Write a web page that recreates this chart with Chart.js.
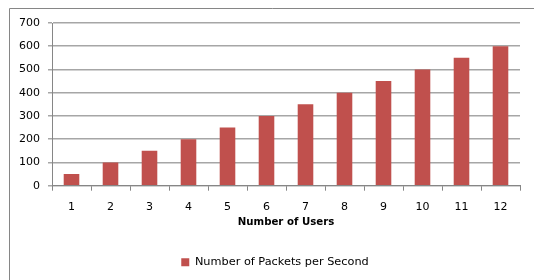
<!DOCTYPE html>
<html>
<head>
<meta charset="utf-8">
<script src="https://cdn.jsdelivr.net/npm/chart.js@4/dist/chart.umd.min.js"></script>
<style>
  html, body { margin: 0; padding: 0; background: #fff; }
  #wrap { width: 534px; height: 280px; position: relative; }
</style>
</head>
<body>
<div id="wrap"><canvas id="packetsChart"></canvas></div>
<script>
// data
var users = ["1", "2", "3", "4", "5", "6", "7", "8", "9", "10", "11", "12"];
var packetsPerSecond = [50, 100, 150, 200, 250, 300, 350, 400, 450, 500, 550, 600];
var seriesName = "Number of Packets per Second";
var xTitle = "Number of Users";

// outer frame of the chart object (cut off at the right and bottom)
var framePlugin = {
  id: "frame",
  beforeDraw: function (chart) {
    var ctx = chart.ctx;
    ctx.save();
    ctx.strokeStyle = "#868686";
    ctx.lineWidth = 1;
    ctx.beginPath();
    ctx.moveTo(9.5, 290);
    ctx.lineTo(9.5, 8.5);
    ctx.lineTo(540, 8.5);
    ctx.stroke();
    ctx.restore();
  },
  // legend in the original sits a bit right of the canvas centre
  afterLayout: function (chart) {
    if (chart.legend) {
      chart.legend.left += 15;
      chart.legend.right += 15;
    }
  }
};

var ctx = document.getElementById("packetsChart").getContext("2d");
new Chart(ctx, {
  type: "bar",
  data: {
    labels: users,
    datasets: [{
      label: seriesName,
      data: packetsPerSecond,
      backgroundColor: "#c0504d",
      borderWidth: 0,
      barPercentage: 0.4,
      categoryPercentage: 1
    }]
  },
  options: {
    responsive: true,
    maintainAspectRatio: false,
    animation: false,
    layout: { padding: { top: 23, right: 14, left: 0, bottom: 2 } },
    font: { family: "DejaVu Sans" },
    scales: {
      x: {
        grid: { drawOnChartArea: false, tickLength: 5, color: "#868686" },
        border: { color: "#868686" },
        ticks: { color: "#000", padding: 10, font: { family: "DejaVu Sans", size: 11 } },
        title: {
          display: true,
          text: xTitle,
          color: "#000",
          font: { family: "DejaVu Sans", size: 10.2, weight: "bold" },
          padding: { top: 0, bottom: 22 }
        },
        afterFit: function (scale) { scale.height = 65; }
      },
      y: {
        min: 0,
        max: 700,
        ticks: { stepSize: 100, color: "#000", padding: 8, font: { family: "DejaVu Sans", size: 11 } },
        grid: { color: "#a6a6a6", tickLength: 4, lineWidth: 1.5 },
        border: { color: "#868686" },
        afterFit: function (scale) { scale.width = 52; }
      }
    },
    plugins: {
      legend: {
        position: "bottom",
        labels: {
          boxWidth: 8,
          boxHeight: 8,
          padding: 6,
          color: "#000",
          font: { family: "DejaVu Sans", size: 11.3 }
        }
      },
      tooltip: { enabled: false }
    }
  },
  plugins: [framePlugin]
});
</script>
</body>
</html>
